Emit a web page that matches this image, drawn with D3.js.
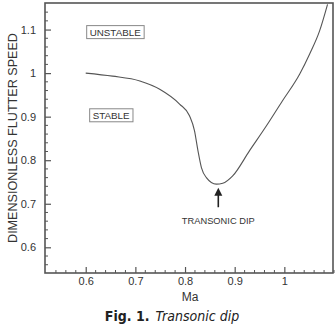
<!DOCTYPE html>
<html>
<head>
<meta charset="utf-8">
<script src="https://cdn.jsdelivr.net/npm/d3@7"></script>
<style>
  body { margin: 0; background: #fff; }
  svg { display: block; font-family: "Liberation Sans", Arial, sans-serif; }
</style>
</head>
<body>
<div id="viz"></div>
<script>
const width = 336;
const height = 326;
const margin = {top: 3, right: 3, bottom: 53, left: 45};

// flutter speed vs Mach number
const mach = [0.6, 0.654, 0.709, 0.749, 0.789, 0.809, 0.819, 0.826, 0.833, 0.843, 0.863, 0.876, 0.896, 0.93, 0.964, 0.996, 1.031, 1.051, 1.071, 1.087];
const flutter = [1.0, 0.993, 0.982, 0.963, 0.929, 0.902, 0.868, 0.822, 0.783, 0.76, 0.745, 0.747, 0.764, 0.822, 0.879, 0.936, 0.998, 1.044, 1.097, 1.158];
const xTicks = [0.6, 0.7, 0.8, 0.9, 1];
const yTicks = [0.6, 0.7, 0.8, 0.9, 1, 1.1];

const data = mach.map((m, i) => ({x: m, y: flutter[i]}));

const svg = d3.select("#viz")
  .append("svg")
  .attr("width", width)
  .attr("height", height);

const x = d3.scaleLinear()
  .domain([0.518, 1.098])
  .range([margin.left, width - margin.right]);

const y = d3.scaleLinear()
  .domain([0.541, 1.161])
  .range([height - margin.bottom, margin.top]);

// minor ticks every 0.02
const xMinor = d3.range(0.54, 1.1, 0.02).filter(v => !xTicks.some(t => Math.abs(t - v) < 1e-6));
const yMinor = d3.range(0.56, 1.16, 0.02).filter(v => !yTicks.some(t => Math.abs(t - v) < 1e-6));

const fmt = d => d === 1 ? "1" : d3.format(".1f")(d);
const xAxis = d3.axisBottom(x).tickValues(xTicks).tickFormat(fmt).tickSizeInner(-6).tickSizeOuter(0).tickPadding(4);
const yAxis = d3.axisLeft(y).tickValues(yTicks).tickFormat(fmt).tickSizeInner(-6).tickSizeOuter(0).tickPadding(9);

const gx = svg.append("g")
  .attr("transform", "translate(0," + (height - margin.bottom) + ")")
  .call(xAxis);
gx.selectAll(".tick line").attr("stroke", "#555").attr("stroke-width", 1.2);
gx.select(".domain").remove();
gx.selectAll("text").attr("font-size", 11).attr("fill", "#333");
gx.selectAll(".minor").data(xMinor).join("line")
  .attr("class", "minor")
  .attr("x1", d => x(d)).attr("x2", d => x(d))
  .attr("y1", 0).attr("y2", -3)
  .attr("stroke", "#555");

const gy = svg.append("g")
  .attr("transform", "translate(" + margin.left + ",0)")
  .call(yAxis);
gy.selectAll(".tick line").attr("stroke", "#555").attr("stroke-width", 1.2);
gy.select(".domain").remove();
gy.selectAll("text").attr("font-size", 11).attr("fill", "#333");
gy.selectAll(".minor").data(yMinor).join("line")
  .attr("class", "minor")
  .attr("x1", 0).attr("x2", 3)
  .attr("y1", d => y(d)).attr("y2", d => y(d))
  .attr("stroke", "#555");

// frame
svg.append("rect")
  .attr("x", margin.left)
  .attr("y", margin.top)
  .attr("width", width - margin.left - margin.right)
  .attr("height", height - margin.top - margin.bottom)
  .attr("fill", "none")
  .attr("stroke", "#555")
  .attr("stroke-width", 1.6);

svg.append("clipPath").attr("id", "clip")
  .append("rect")
  .attr("x", margin.left)
  .attr("y", margin.top)
  .attr("width", width - margin.left - margin.right)
  .attr("height", height - margin.top - margin.bottom);

const line = d3.line()
  .x(d => x(d.x))
  .y(d => y(d.y))
  .curve(d3.curveMonotoneX);

svg.append("path")
  .datum(data)
  .attr("clip-path", "url(#clip)")
  .attr("d", line)
  .attr("fill", "none")
  .attr("stroke", "#555")
  .attr("stroke-width", 1.1);

// boxed region labels
const boxes = [
  {label: "UNSTABLE", x: 0.608, y: 1.094},
  {label: "STABLE", x: 0.614, y: 0.903}
];
boxes.forEach(b => {
  const g = svg.append("g");
  const r = g.append("rect");
  const t = g.append("text")
    .attr("x", x(b.x))
    .attr("y", y(b.y))
    .attr("dy", "0.35em")
    .attr("font-size", 9.8)
    .attr("fill", "#333")
    .text(b.label);
  const bb = t.node().getBBox();
  r.attr("x", bb.x - 3)
    .attr("y", bb.y - 1)
    .attr("width", bb.width + 6)
    .attr("height", bb.height + 2)
    .attr("fill", "white")
    .attr("stroke", "#888")
    .attr("stroke-width", 1);
});

// arrow to the dip
const arrowX = x(0.867);
svg.append("line")
  .attr("x1", arrowX).attr("x2", arrowX)
  .attr("y1", y(0.725)).attr("y2", y(0.692))
  .attr("stroke", "#222").attr("stroke-width", 1.6);
svg.append("path")
  .attr("d", "M" + arrowX + "," + y(0.737) + " l-4,8 l8,0 z")
  .attr("fill", "#222");
svg.append("text")
  .attr("x", arrowX)
  .attr("y", y(0.66))
  .attr("dy", "0.35em")
  .attr("text-anchor", "middle")
  .attr("font-size", 9.3)
  .attr("fill", "#333")
  .text("TRANSONIC DIP");

// axis titles
svg.append("text")
  .attr("transform", "translate(17," + ((margin.top + height - margin.bottom) / 2) + ") rotate(-90)")
  .attr("text-anchor", "middle")
  .attr("font-size", 12.6)
  .attr("fill", "#333")
  .text("DIMENSIONLESS FLUTTER SPEED");

svg.append("text")
  .attr("x", x(0.81))
  .attr("y", 301)
  .attr("text-anchor", "middle")
  .attr("font-size", 12)
  .attr("fill", "#333")
  .text("Ma");

// caption
const cap = svg.append("text")
  .attr("x", 172)
  .attr("y", 321)
  .attr("text-anchor", "middle")
  .attr("font-family", "'Liberation Sans Narrow', 'DejaVu Sans Condensed', sans-serif")
  .attr("font-size", 14)
  .attr("fill", "#222");
cap.append("tspan").attr("font-weight", "bold").text("Fig. 1.");
cap.append("tspan").attr("font-style", "italic").attr("dx", 6).text("Transonic dip");
</script>
</body>
</html>
